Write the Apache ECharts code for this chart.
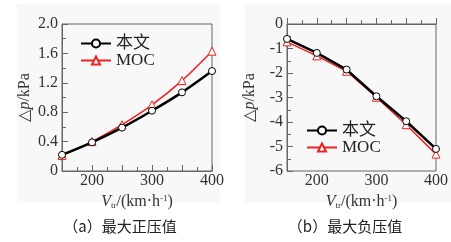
<!DOCTYPE html>
<html>
<head>
<meta charset="utf-8">
<script src="https://cdn.jsdelivr.net/npm/echarts@6/dist/echarts.min.js"></script>
<style>
    html, body { margin: 0; padding: 0; background: #fff; }
    #chart { width: 451px; height: 242px; }
</style>
</head>
<body>
<div id="chart"></div>
<script>
    // 列车速度
    var speeds = [150, 200, 250, 300, 350, 400];
    // (a) 最大正压值
    var posOurs = [0.22, 0.39, 0.59, 0.82, 1.07, 1.36];
    var posMoc = [0.21, 0.40, 0.63, 0.90, 1.23, 1.63];
    // (b) 最大负压值
    var negOurs = [-0.61, -1.18, -1.86, -2.95, -3.97, -5.10];
    var negMoc = [-0.73, -1.30, -1.93, -2.99, -4.11, -5.31];
    var seriesNames = ['本文', 'MOC'];
    var captions = ['（a）最大正压值', '（b）最大负压值'];

    var serif = '"Liberation Serif", "Times New Roman", "DejaVu Serif", "Noto Sans CJK SC", serif';
    var axisColor = '#666';

    function pairs(ys) {
        return speeds.map(function (x, i) { return [x, ys[i]]; });
    }

    function xAxisOf(idx) {
        return {
            type: 'value',
            gridIndex: idx,
            min: 150,
            max: 400,
            interval: 50,
            name: '{i|V}{s|tr}/(km·h{p|-1})',
            nameLocation: 'middle',
            nameGap: 2,
            nameTextStyle: {
                color: '#333',
                fontFamily: serif,
                fontSize: 16,
                rich: {
                    i: { fontStyle: 'italic', fontFamily: serif, fontSize: 16, color: '#333' },
                    s: { fontFamily: serif, fontSize: 9, color: '#333', padding: [8, 0, 0, 0] },
                    p: { fontFamily: serif, fontSize: 9, color: '#333', padding: [0, 0, 7, 0] }
                }
            },
            axisLine: { lineStyle: { color: axisColor } },
            axisTick: { inside: true, length: 6, lineStyle: { color: axisColor } },
            minorTick: { show: true, splitNumber: 2, length: 4, lineStyle: { color: axisColor } },
            splitLine: { show: false },
            axisLabel: {
                color: '#333',
                fontFamily: serif,
                fontSize: 16,
                margin: 2,
                formatter: function (v) { return v % 100 === 0 ? String(v) : ''; }
            }
        };
    }

    function yAxisOf(idx, min, max, interval, fmt) {
        return {
            type: 'value',
            gridIndex: idx,
            min: min,
            max: max,
            interval: interval,
            name: '△{i|p}/kPa',
            nameLocation: 'middle',
            nameRotate: 90,
            nameGap: 29,
            nameTextStyle: {
                color: '#333',
                fontFamily: serif,
                fontSize: 16,
                rich: {
                    i: { fontStyle: 'italic', fontFamily: serif, fontSize: 16, color: '#333' }
                }
            },
            axisLine: { show: true, lineStyle: { color: axisColor } },
            axisTick: { show: true, inside: true, length: 6, lineStyle: { color: axisColor } },
            minorTick: { show: true, splitNumber: 2, length: 4, lineStyle: { color: axisColor } },
            splitLine: { show: false },
            axisLabel: {
                color: '#333',
                fontFamily: serif,
                fontSize: 16,
                margin: 4,
                formatter: fmt
            }
        };
    }

    function lineSeries(name, idx, ys, smooth) {
        var black = name === seriesNames[0];
        return {
            name: name,
            type: 'line',
            xAxisIndex: idx,
            yAxisIndex: idx,
            smooth: smooth,
            data: pairs(ys),
            symbol: black ? 'circle' : 'triangle',
            symbolSize: black ? 7 : 8,
            z: black ? 3 : 2,
            itemStyle: { color: '#fff', borderColor: black ? '#000' : '#ee2222', borderWidth: 1 },
            lineStyle: { color: black ? '#000' : '#ee2222', width: black ? 2.5 : 1.5 }
        };
    }

    function legendOf(left, top) {
        return {
            left: left,
            top: top,
            padding: 0,
            orient: 'vertical',
            itemWidth: 30,
            itemHeight: 10,
            itemGap: 0,
            data: seriesNames,
            textStyle: { color: '#222', fontFamily: serif, fontSize: 17 }
        };
    }

    var chart = echarts.init(document.getElementById('chart'));
    chart.setOption({
        animation: false,
        backgroundColor: '#fff',
        graphic: [
            { type: 'rect', shape: { x: 17, y: 4, width: 203, height: 199 }, style: { fill: '#f8f8f8' }, z: -10 },
            { type: 'rect', shape: { x: 245, y: 4, width: 206, height: 199 }, style: { fill: '#f8f8f8' }, z: -10 }
        ],
        title: [
            { text: captions[0], left: 115, top: 214, textAlign: 'center',
              textStyle: { fontFamily: '"Noto Sans CJK SC"', fontWeight: 'normal', fontSize: 15, color: '#222' } },
            { text: captions[1], left: 340, top: 214, textAlign: 'center',
              textStyle: { fontFamily: '"Noto Sans CJK SC"', fontWeight: 'normal', fontSize: 15, color: '#222' } }
        ],
        legend: [
            legendOf(80, 35),
            legendOf(306, 122)
        ],
        grid: [
            { left: 62, top: 24, width: 150, height: 147, show: true, borderColor: axisColor, borderWidth: 1, backgroundColor: 'transparent' },
            { left: 287, top: 24, width: 150, height: 147, show: true, borderColor: axisColor, borderWidth: 1, backgroundColor: 'transparent' }
        ],
        xAxis: [xAxisOf(0), xAxisOf(1)],
        yAxis: [
            yAxisOf(0, 0, 2.0, 0.4, function (v) { return v === 0 ? '0' : v.toFixed(1); }),
            yAxisOf(1, -6, 0, 1, function (v) { return String(v); })
        ],
        series: [
            lineSeries(seriesNames[0], 0, posOurs, 0.3),
            lineSeries(seriesNames[1], 0, posMoc, 0.3),
            lineSeries(seriesNames[0], 1, negOurs, false),
            lineSeries(seriesNames[1], 1, negMoc, false)
        ]
    });
</script>
</body>
</html>
